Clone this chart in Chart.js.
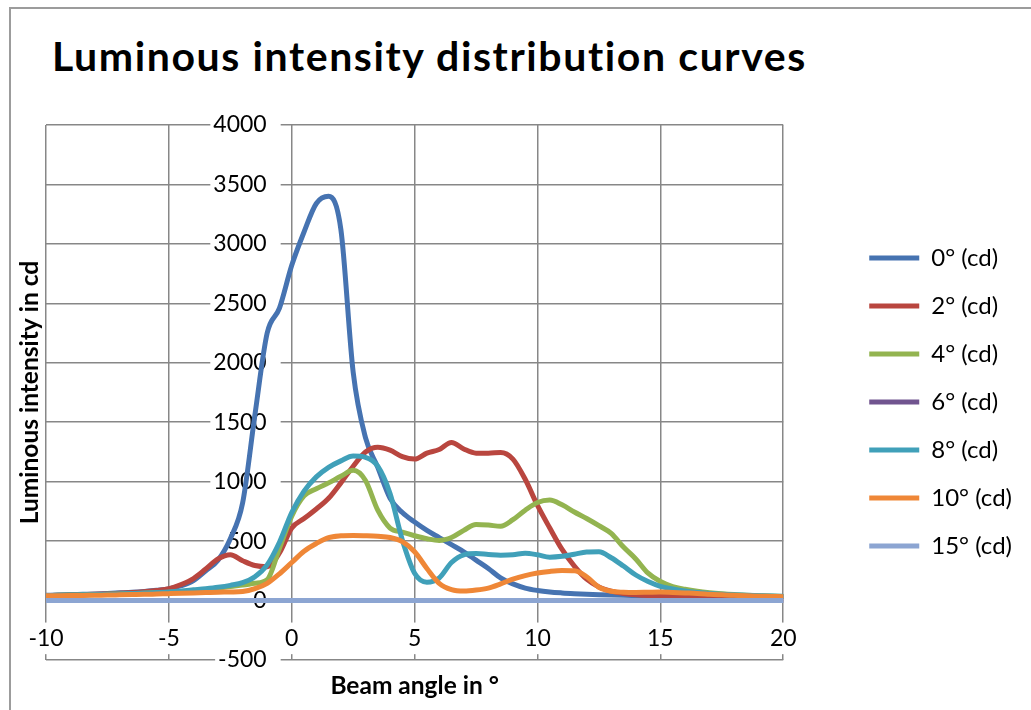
<!DOCTYPE html>
<html>
<head>
<meta charset="utf-8">
<script src="https://cdn.jsdelivr.net/npm/chart.js@4.4.1/dist/chart.umd.min.js"></script>
<style>
  html, body { margin: 0; background: #fff; overflow: hidden; }
  #frame { position: absolute; left: 9px; top: 7px; width: 1100px; height: 800px; border-left: 2px solid #9c9c9c; border-top: 2px solid #9c9c9c; }
  #title { position: absolute; left: 52px; top: 35px; margin: 0; font: bold 41px Lato, sans-serif; letter-spacing: 1.6px; line-height: 1; white-space: nowrap; color: #000; }
  #wrap { position: absolute; left: 0; top: 0; width: 1031px; height: 710px; }
</style>
</head>
<body>
<div id="frame"></div>
<h1 id="title">Luminous intensity distribution curves</h1>
<div id="wrap"><canvas id="chart" width="1031" height="710"></canvas></div>
<script>
// Beam angle (°), shared by every series
const angles = [-10, -9.5, -9, -8.5, -8, -7.5, -7, -6.5, -6, -5.5, -5, -4.5, -4, -3.5, -3, -2.5, -2, -1.5, -1, -0.5,
  0, 0.5, 1, 1.5, 2, 2.5, 3, 3.5, 4, 4.5, 5, 5.5, 6, 6.5, 7, 7.5, 8, 8.5, 9, 9.5,
  10, 10.5, 11, 11.5, 12, 12.5, 13, 13.5, 14, 14.5, 15, 15.5, 16, 16.5, 17, 17.5, 18, 18.5, 19, 19.5, 20];

// Luminous intensity in cd
const cd0 = [45, 47, 50, 53, 56, 60, 65, 70, 77, 86, 98, 125, 168, 250, 340, 520, 820, 1560, 2250, 2460,
  2820, 3100, 3340, 3400, 3120, 1920, 1370, 1120, 860, 740, 660, 590, 530, 470, 410, 340, 270, 190, 140, 105,
  85, 72, 64, 58, 53, 49, 46, 44, 43, 42, 41, 40, 40, 39, 38, 37, 36, 35, 35, 34, 34];
const cd2 = [42, 44, 46, 49, 52, 56, 61, 67, 75, 85, 100, 135, 185, 265, 350, 385, 335, 295, 285, 400,
  610, 690, 770, 860, 990, 1130, 1250, 1290, 1265, 1210, 1190, 1240, 1270, 1330, 1275, 1240, 1240, 1245, 1190, 1020,
  800, 610, 430, 290, 180, 115, 80, 60, 48, 42, 40, 39, 38, 37, 36, 35, 35, 34, 34, 33, 33];
const cd4 = [42, 44, 46, 48, 50, 53, 56, 59, 62, 66, 70, 76, 83, 92, 103, 118, 130, 145, 175, 440,
  710, 880, 940, 990, 1045, 1095, 1010, 760, 610, 575, 545, 520, 505, 530, 590, 640, 635, 625, 680, 760,
  825, 845, 805, 745, 690, 630, 565, 450, 350, 230, 160, 118, 95, 78, 66, 57, 50, 45, 41, 38, 35];
const cd6 = [0, 0, 0, 0, 0, 0, 0, 0, 0, 0, 0, 0, 0, 0, 0, 0, 0, 0, 0, 0,
  0, 0, 0, 0, 0, 0, 0, 0, 0, 0, 0, 0, 0, 0, 0, 0, 0, 0, 0, 0,
  0, 0, 0, 0, 0, 0, 0, 0, 0, 0, 0, 0, 0, 0, 0, 0, 0, 0, 0, 0, 0];
const cd8 = [42, 44, 46, 48, 50, 53, 56, 59, 63, 67, 72, 80, 90, 100, 112, 128, 150, 200, 300, 490,
  740, 920, 1040, 1120, 1175, 1215, 1205, 1130, 900, 510, 230, 155, 190, 320, 385, 395, 388, 382, 385, 398,
  385, 365, 372, 390, 408, 410, 360, 290, 215, 160, 120, 98, 80, 68, 60, 53, 48, 44, 41, 38, 36];
const cd10 = [40, 41, 42, 43, 45, 46, 48, 50, 52, 55, 58, 61, 64, 67, 70, 72, 76, 100, 145, 225,
  320, 415, 480, 530, 545, 548, 545, 540, 530, 495, 410, 270, 145, 92, 80, 88, 105, 140, 180, 210,
  232, 245, 252, 250, 200, 112, 78, 70, 68, 70, 72, 68, 64, 60, 54, 48, 44, 40, 37, 35, 33];
const cd15 = [0, 0, 0, 0, 0, 0, 0, 0, 0, 0, 0, 0, 0, 0, 0, 0, 0, 0, 0, 0,
  0, 0, 0, 0, 0, 0, 0, 0, 0, 0, 0, 0, 0, 0, 0, 0, 0, 0, 0, 0,
  0, 0, 0, 0, 0, 0, 0, 0, 0, 0, 0, 0, 0, 0, 0, 0, 0, 0, 0, 0, 0];

const seriesNames = ['0° (cd)', '2° (cd)', '4° (cd)', '6° (cd)', '8° (cd)', '10° (cd)', '15° (cd)'];
const seriesValues = [cd0, cd2, cd4, cd6, cd8, cd10, cd15];
const seriesColors = ['#4673B1', '#B9463F', '#93B450', '#71548F', '#40A0B9', '#EF8737', '#8CA5D2'];

const xTicks = { min: -10, max: 20, step: 5 };
const yTicks = { min: -500, max: 4000, step: 500 };
// the value labels sit just left of the 0° line, like in Excel
const yLabelsAt = -1.02;

const FONT = 'Lato, sans-serif';
const gridColor = '#878787';

Chart.defaults.font.family = FONT;
Chart.defaults.color = '#000';

// Excel draws the later series on top, so lower order for later ones
const datasets = seriesValues.map((vals, i) => ({
    label: seriesNames[i],
    data: angles.map((a, k) => ({ x: a, y: vals[k] })),
    borderColor: seriesColors[i],
    backgroundColor: seriesColors[i],
    borderWidth: 5,
    borderCapStyle: 'round',
    borderJoinStyle: 'round',
    pointRadius: 0,
    pointHoverRadius: 0,
    showLine: true,
    cubicInterpolationMode: 'monotone',
    order: seriesValues.length - 1 - i,
    xAxisID: 'x',
    yAxisID: 'y'
}));

// empty helper axes, only used to reserve room and hold the axis titles
const spacer = (extra) => Object.assign({
    display: true,
    ticks: { display: false },
    grid: { display: false, drawTicks: false },
    border: { display: false }
}, extra);

const plainNumber = (v) => String(v);

new Chart(document.getElementById('chart').getContext('2d'), {
    type: 'scatter',
    data: { datasets: datasets },
    options: {
        responsive: false,
        maintainAspectRatio: false,
        animation: false,
        devicePixelRatio: 1,
        layout: { padding: { top: 94, left: 0, right: 9, bottom: 0 } },
        scales: {
            x: {
                type: 'linear',
                position: { y: 0 },
                min: xTicks.min,
                max: xTicks.max,
                ticks: {
                    stepSize: xTicks.step,
                    callback: plainNumber,
                    font: { size: 23 },
                    color: '#000',
                    padding: 24,
                    maxRotation: 0,
                    showLabelBackdrop: true,
                    backdropColor: '#fff',
                    backdropPadding: 2
                },
                grid: { color: gridColor, lineWidth: 1.5, drawTicks: false },
                border: { display: false }
            },
            y: {
                type: 'linear',
                position: { x: yLabelsAt },
                min: yTicks.min,
                max: yTicks.max,
                ticks: {
                    stepSize: yTicks.step,
                    callback: plainNumber,
                    font: { size: 23 },
                    color: '#000',
                    showLabelBackdrop: true,
                    backdropColor: '#fff',
                    backdropPadding: { top: 1, bottom: 1, left: 3, right: 14 }
                },
                grid: { color: gridColor, lineWidth: 1.5, drawTicks: false },
                border: { display: false }
            },
            yt: spacer({
                axis: 'y',
                position: 'left',
                title: {
                    display: true,
                    text: 'Luminous intensity in cd',
                    font: { size: 24.5, weight: 'bold' },
                    color: '#000',
                    padding: { top: 15, bottom: 0 }
                },
                afterFit: (s) => { s.width = 46; }
            }),
            yr: spacer({
                axis: 'y',
                position: 'right',
                afterFit: (s) => { s.width = 62; }
            }),
            xt: spacer({
                axis: 'x',
                position: 'top',
                afterFit: (s) => { s.height = 31; }
            }),
            xb: spacer({
                axis: 'x',
                position: 'bottom',
                title: {
                    display: true,
                    text: 'Beam angle in °',
                    font: { size: 24.5, weight: 'bold' },
                    color: '#000',
                    padding: { top: 0, bottom: 9 }
                },
                afterFit: (s) => { s.height = 50; }
            })
        },
        plugins: {
            title: { display: false },
            tooltip: { enabled: false },
            legend: {
                position: 'right',
                maxWidth: 400,
                labels: {
                    usePointStyle: true,
                    pointStyle: 'line',
                    pointStyleWidth: 50,
                    font: { size: 24 },
                    color: '#000',
                    padding: 24,
                    sort: (a, b) => a.datasetIndex - b.datasetIndex
                }
            }
        }
    }
});
</script>
</body>
</html>
